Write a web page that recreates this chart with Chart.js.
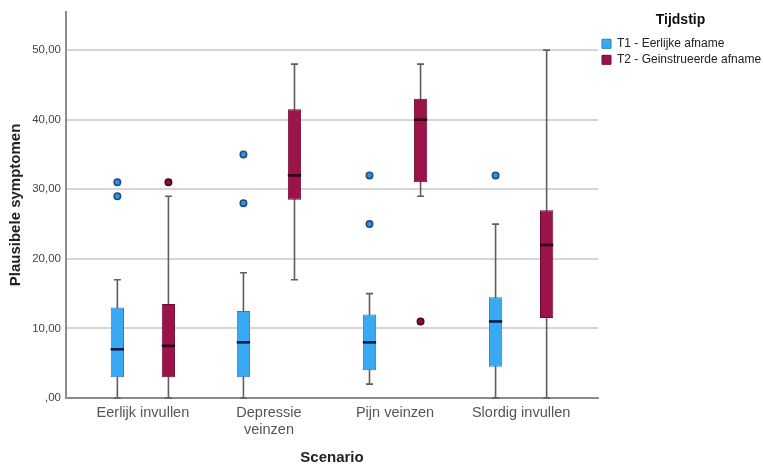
<!DOCTYPE html>
<html><head><meta charset="utf-8">
<script src="https://cdn.jsdelivr.net/npm/chart.js@4"></script>
<style>html,body{margin:0;padding:0;background:#fff}#wrap{width:763px;height:470px}</style>
</head><body><div id="wrap"><canvas id="c" width="763" height="470"></canvas></div>
<script>
const categories = ['Eerlijk invullen', ['Depressie', 'veinzen'], 'Pijn veinzen', 'Slordig invullen'];
const seriesNames = ['T1 - Eerlijke afname', 'T2 - Geinstrueerde afname'];

const t1Min = [0, 0, 2, 0];
const t1Q1 = [3, 3, 4, 4.5];
const t1Median = [7, 8, 8, 11];
const t1Q3 = [13, 12.5, 12, 14.5];
const t1Max = [17, 18, 15, 25];
const t1Outliers = [[29, 31], [28, 35], [25, 32], [32]];

const t2Min = [0, 17, 29, 0];
const t2Q1 = [3, 28.5, 31, 11.5];
const t2Median = [7.5, 32, 40, 22];
const t2Q3 = [13.5, 41.5, 43, 27];
const t2Max = [29, 48, 48, 50];
const t2Outliers = [[31], [], [11], []];

const yTickValues = [0, 10, 20, 30, 40, 50];
const yTickLabels = [',00', '10,00', '20,00', '30,00', '40,00', '50,00'];

const boxData = (q1, q3) => categories.map((c, i) => ({ x: i, y: [q1[i], q3[i]] }));

const boxplotPlugin = {
  id: 'boxplot',
  beforeDatasetsDraw(chart) {
    const ys = chart.scales.y, ctx = chart.ctx;
    chart.data.datasets.forEach((ds, d) => {
      const meta = chart.getDatasetMeta(d);
      meta.data.forEach((el, i) => {
        const x = el.x;
        const yMin = ys.getPixelForValue(ds.stat.min[i]);
        const yMax = ys.getPixelForValue(ds.stat.max[i]);
        const cw = 7;
        ctx.save();
        ctx.strokeStyle = '#5e5e5e';
        ctx.lineWidth = 1.6;
        ctx.beginPath();
        ctx.moveTo(x, yMin); ctx.lineTo(x, yMax);
        ctx.moveTo(x - cw / 2, yMax); ctx.lineTo(x + cw / 2, yMax);
        ctx.moveTo(x - cw / 2, yMin); ctx.lineTo(x + cw / 2, yMin);
        ctx.stroke();
        ctx.restore();
      });
    });
  },
  afterDatasetsDraw(chart) {
    const ys = chart.scales.y, ctx = chart.ctx;
    chart.data.datasets.forEach((ds, d) => {
      const meta = chart.getDatasetMeta(d);
      meta.data.forEach((el, i) => {
        const x = el.x, w = el.width;
        const ym = ys.getPixelForValue(ds.stat.median[i]);
        ctx.save();
        ctx.strokeStyle = ds.medianColor;
        ctx.lineWidth = 2.6;
        ctx.beginPath();
        ctx.moveTo(x - w / 2, ym); ctx.lineTo(x + w / 2, ym);
        ctx.stroke();
        ds.stat.outliers[i].forEach(v => {
          const yo = ys.getPixelForValue(v);
          ctx.beginPath();
          ctx.arc(x, yo, 3.2, 0, Math.PI * 2);
          ctx.fillStyle = ds.outlierFill;
          ctx.fill();
          ctx.lineWidth = 1.6;
          ctx.strokeStyle = ds.outlierBorder;
          ctx.stroke();
        });
        ctx.restore();
      });
    });
  }
};

new Chart(document.getElementById('c'), {
  type: 'bar',
  data: {
    datasets: [
      {
        label: seriesNames[0], data: boxData(t1Q1, t1Q3),
        backgroundColor: '#3aa9f3', borderColor: '#2a7fba', borderWidth: 1, borderSkipped: false,
        stat: { min: t1Min, median: t1Median, max: t1Max, outliers: t1Outliers },
        medianColor: '#0c1d4d', outlierFill: '#3d90d6', outlierBorder: '#1b4f80'
      },
      {
        label: seriesNames[1], data: boxData(t2Q1, t2Q3),
        backgroundColor: '#9c134a', borderColor: '#6e0c33', borderWidth: 1, borderSkipped: false,
        stat: { min: t2Min, median: t2Median, max: t2Max, outliers: t2Outliers },
        medianColor: '#2a0612', outlierFill: '#8c0f3c', outlierBorder: '#4a0620'
      }
    ]
  },
  options: {
    responsive: false, animation: false, devicePixelRatio: 1,
    categoryPercentage: 0.81, barPercentage: 0.26,
    layout: { padding: { top: 5, left: 0, right: 0, bottom: 0 } },
    plugins: {
      tooltip: { enabled: false },
      legend: {
        position: 'right', align: 'start', maxWidth: 165,
        title: { display: true, text: 'Tijdstip', color: '#111', font: { family: 'Arial', size: 14, weight: 'bold' }, padding: { top: 8, bottom: 4 } },
        labels: { boxWidth: 9, boxHeight: 9, padding: 4, color: '#222', font: { family: 'Arial', size: 12 } }
      }
    },
    scales: {
      x: {
        type: 'linear', min: -0.61, max: 3.61, offset: false,
        afterBuildTicks: s => { s.ticks = categories.map((c, i) => ({ value: i })); },
        afterFit: s => { s.height = 72; },
        ticks: { callback: v => categories[v], color: '#555', font: { family: 'Arial', size: 14.5 }, padding: 6, maxRotation: 0, autoSkip: false },
        grid: { display: false, drawTicks: false, offset: false },
        border: { display: true, color: '#8c8c8c', width: 2 },
        title: { display: true, text: 'Scenario', color: '#222', font: { family: 'Arial', size: 15, weight: 'bold' }, padding: { top: 0, bottom: 3 } }
      },
      y: {
        min: 0, max: 55.5,
        afterBuildTicks: s => { s.ticks = yTickValues.map(v => ({ value: v })); },
        afterFit: s => { s.width = 66; },
        ticks: { callback: v => yTickLabels[yTickValues.indexOf(v)], color: '#444', font: { family: 'Arial', size: 11.5 }, padding: 5 },
        grid: { color: '#d6d6d6', lineWidth: 2, drawTicks: false },
        border: { color: '#8c8c8c', width: 2 },
        title: { display: true, text: 'Plausibele symptomen', color: '#222', font: { family: 'Arial', size: 15, weight: 'bold' }, padding: { top: 7, bottom: 0 } }
      }
    }
  },
  plugins: [boxplotPlugin]
});
</script></body></html>
